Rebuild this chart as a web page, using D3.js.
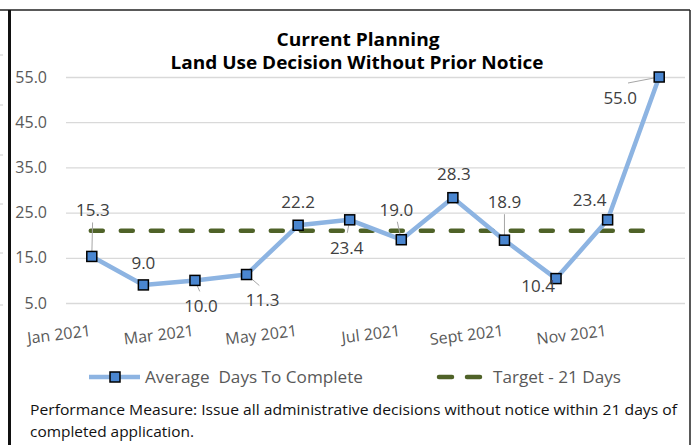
<!DOCTYPE html>
<html lang="en">
<head>
<meta charset="utf-8">
<title>Current Planning</title>
<script src="https://d3js.org/d3.v7.min.js"></script>
<style>
  body { margin: 0; background: #fff; }
  svg { display: block; font-family: "Open Sans", sans-serif; }
</style>
</head>
<body>
<svg id="chart"></svg>
<script>
// data
var months = ["Jan 2021", "Feb 2021", "Mar 2021", "Apr 2021", "May 2021", "Jun 2021",
              "Jul 2021", "Aug 2021", "Sept 2021", "Oct 2021", "Nov 2021", "Dec 2021"];
var avgDays = [15.3, 9.0, 10.0, 11.3, 22.2, 23.4, 19.0, 28.3, 18.9, 10.4, 23.4, 55.0];
var target = 21;
var yTicks = [5, 15, 25, 35, 45, 55];
var shownMonths = ["Jan 2021", "Mar 2021", "May 2021", "Jul 2021", "Sept 2021", "Nov 2021"];

// label placement (offset of label centre from the point, and whether a leader is drawn)
var labelOffsets = [[1, -46, 1], [0, -22, 0], [6, 26, 1], [16, 26, 1], [0, -23, 0], [-3, 28, 1],
                    [-5, -30, 1], [1, -24, 0], [0, -38, 1], [-18, 7, 1], [-18, -20, 0], [-39, 21, 1]];

var width = 692, height = 445;
var svg = d3.select("#chart").attr("width", width).attr("height", height);

var x = d3.scalePoint().domain(months).range([66, 685]).padding(0.5);
var y = d3.scaleLinear().domain([5, 55]).range([303, 77]);

// frame
svg.append("line").attr("x1", 0).attr("x2", 690).attr("y1", 10).attr("y2", 10)
    .attr("stroke", "#222").attr("stroke-width", 1.5);
svg.append("line").attr("x1", 9.5).attr("x2", 9.5).attr("y1", 10).attr("y2", height)
    .attr("stroke", "#111").attr("stroke-width", 3);
svg.append("line").attr("x1", 690).attr("x2", 690).attr("y1", 10).attr("y2", height)
    .attr("stroke", "#222").attr("stroke-width", 1.5);
// stubs of the neighbouring chart
[55, 105, 155, 204, 253, 305].forEach(function(v) {
    svg.append("line").attr("x1", 0).attr("x2", 3).attr("y1", v).attr("y2", v)
        .attr("stroke", "#ccc");
});

// title
var title = svg.append("text").attr("text-anchor", "middle")
    .attr("font-weight", "bold").attr("font-size", 18).attr("fill", "#000");
title.append("tspan").attr("x", 358).attr("y", 46)
    .attr("textLength", 163).attr("lengthAdjust", "spacingAndGlyphs").text("Current Planning");
title.append("tspan").attr("x", 357).attr("y", 69)
    .attr("textLength", 373).attr("lengthAdjust", "spacingAndGlyphs")
    .text("Land Use Decision Without Prior Notice");

// gridlines + y axis
var yAxis = d3.axisLeft(y).tickValues(yTicks).tickSize(-(685 - 66)).tickFormat(d3.format(".1f"));
var gy = svg.append("g").attr("transform", "translate(66,0)").call(yAxis);
gy.select(".domain").remove();
gy.selectAll(".tick line").attr("stroke", "#d9d9d9").attr("stroke-width", 1.3);
gy.selectAll(".tick text").attr("x", -19).attr("fill", "#595959")
    .style("font-size", "16px").style("font-family", "Open Sans, sans-serif");

// x axis labels
var xAxis = d3.axisBottom(x).tickValues(shownMonths).tickSize(0);
var gx = svg.append("g").attr("transform", "translate(0,303)").call(xAxis);
gx.select(".domain").remove();
gx.selectAll(".tick text")
    .style("font-size", "16px").style("font-family", "Open Sans, sans-serif").attr("fill", "#595959")
    .attr("text-anchor", "end").attr("y", 0).attr("dy", 0)
    .attr("transform", "translate(-1,33) rotate(-7)");

// target line
svg.append("line")
    .attr("x1", x(months[0]) - 1).attr("x2", x(months[months.length - 1]))
    .attr("y1", y(target)).attr("y2", y(target))
    .attr("stroke", "#4f6228").attr("stroke-width", 4.5)
    .attr("stroke-dasharray", "12,18").attr("stroke-linecap", "round");

// leaders
var pts = avgDays.map(function(v, i) { return { m: months[i], v: v, o: labelOffsets[i] }; });
svg.append("g").selectAll("line").data(pts.filter(function(d) { return d.o[2]; })).enter()
    .append("line")
    .attr("x1", function(d) { return x(d.m); })
    .attr("y1", function(d) { return y(d.v); })
    .attr("x2", function(d) {
        var dx = d.o[0], dy = d.o[1];
        if (Math.abs(dy) > 20) return x(d.m) + dx * 0.8;
        return x(d.m) + dx + (dx < 0 ? 22 : -22);
    })
    .attr("y2", function(d) {
        var dy = d.o[1];
        if (Math.abs(dy) > 20) return y(d.v) + dy + (dy < 0 ? 12 : -15);
        return y(d.v) + dy - 2;
    })
    .attr("stroke", "#a6a6a6").attr("stroke-width", 1);

// series line
var line = d3.line().x(function(d) { return x(d.m); }).y(function(d) { return y(d.v); });
svg.append("path").datum(pts).attr("d", line)
    .attr("fill", "none").attr("stroke", "#8db4e2").attr("stroke-width", 4.5)
    .attr("stroke-linejoin", "round");

svg.append("g").selectAll("rect").data(pts).enter().append("rect")
    .attr("x", function(d) { return x(d.m) - 5; })
    .attr("y", function(d) { return y(d.v) - 5; })
    .attr("width", 10).attr("height", 10)
    .attr("fill", "#4a86d0").attr("stroke", "#000").attr("stroke-width", 1.5);

// data labels
svg.append("g").selectAll("text").data(pts).enter().append("text")
    .attr("x", function(d) { return x(d.m) + d.o[0]; })
    .attr("y", function(d) { return y(d.v) + d.o[1]; })
    .attr("dy", "0.35em").attr("text-anchor", "middle")
    .attr("font-size", 17).attr("fill", "#404040")
    .text(function(d) { return d3.format(".1f")(d.v); });

// legend
var lg = svg.append("g");
lg.append("line").attr("x1", 89).attr("x2", 140).attr("y1", 377).attr("y2", 377)
    .attr("stroke", "#8db4e2").attr("stroke-width", 4.5);
lg.append("rect").attr("x", 110).attr("y", 372).attr("width", 10).attr("height", 10)
    .attr("fill", "#4a86d0").attr("stroke", "#000").attr("stroke-width", 1.5);
lg.append("text").attr("x", 145).attr("y", 383).attr("font-size", 17).attr("fill", "#595959")
    .attr("xml:space", "preserve")
    .attr("textLength", 218).attr("lengthAdjust", "spacingAndGlyphs")
    .text("Average  Days To Complete");
lg.append("line").attr("x1", 439).attr("x2", 484).attr("y1", 377).attr("y2", 377)
    .attr("stroke", "#4f6228").attr("stroke-width", 4.5)
    .attr("stroke-dasharray", "13,15").attr("stroke-linecap", "round");
lg.append("text").attr("x", 493).attr("y", 383).attr("font-size", 17).attr("fill", "#595959")
    .attr("textLength", 128).attr("lengthAdjust", "spacingAndGlyphs")
    .text("Target - 21 Days");

// footnote
var note = svg.append("text").attr("font-size", 15).attr("fill", "#111");
note.append("tspan").attr("x", 30).attr("y", 415)
    .attr("textLength", 647).attr("lengthAdjust", "spacingAndGlyphs")
    .text("Performance Measure:  Issue all administrative decisions without notice within 21 days of");
note.append("tspan").attr("x", 30).attr("y", 437)
    .attr("textLength", 164).attr("lengthAdjust", "spacingAndGlyphs")
    .text("completed application.");
</script>
</body>
</html>
